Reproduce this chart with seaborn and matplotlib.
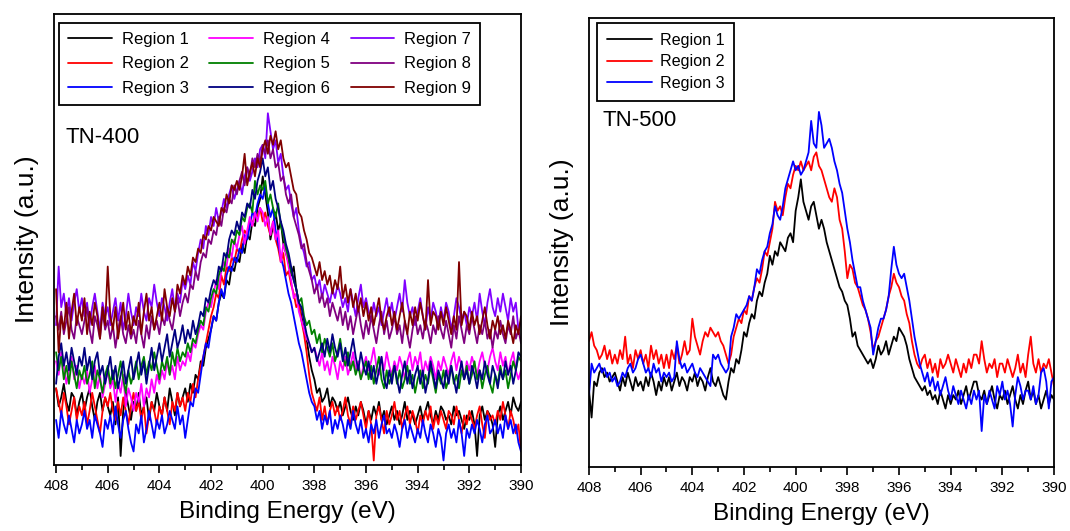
import numpy as np
import pandas as pd
import matplotlib
matplotlib.use("Agg")
import matplotlib.pyplot as plt
import seaborn as sns
from matplotlib.ticker import MultipleLocator

# N 1s spectra, binding energy grid (eV), 0.1 eV step from 408 down to 390
energy = np.round(np.arange(408.0, 389.95, -0.1), 1)

# ---- TN-400 (intensity, arbitrary units) ----
tn400_region1 = [
    17, 13, 15, 18, 14, 12, 16, 15, 11, 14,
    16, 12, 15, 17, 13, 10, 14, 16, 12, 15,
    13, 11, 14, 9, 15, 2, 12, 16, 13, 10,
    14, 12, 16, 11, 13, 15, 10, 14, 12, 16,
    13, 11, 15, 12, 17, 14, 11, 16, 13, 15,
    17, 14, 18, 16, 20, 19, 23, 22, 26, 28,
    30, 33, 32, 36, 38, 37, 41, 40, 44, 43,
    46, 45, 49, 47, 51, 50, 54, 53, 57, 59,
    64, 60, 56, 50, 53, 56, 52, 54, 49, 47,
    45, 42, 44, 39, 36, 33, 30, 28, 24, 21,
    19, 16, 17, 14, 15, 17, 13, 15, 14, 12,
    14, 11, 13, 15, 12, 10, 13, 11, 14, 12,
    9, 12, 10, 13, 11, 14, 10, 12, 9, 11,
    13, 10, 12, 9, 11, 14, 10, 12, 11, 9,
    11, 13, 10, 12, 14, 11, 9, 12, 10, 13,
    12, 10, 11, 9, 13, 11, 12, 10, 8, 11,
    10, 12, 9, 2, 11, 13, 10, 12, 11, 9,
    4, 11, 13, 10, 12, 14, 11, 15, 13, 12,
    14]
tn400_region2 = [
    17, 14, 11, 16, 13, 9, 12, 15, 10, 13,
    11, 14, 9, 12, 16, 13, 10, 7, 12, 15,
    13, 16, 12, 10, 14, 11, 15, 12, 9, 13,
    16, 12, 14, 10, 13, 7, 11, 14, 12, 9,
    13, 11, 15, 12, 9, 14, 12, 16, 13, 15,
    12, 16, 14, 18, 15, 19, 22, 24, 27, 30,
    33, 35, 38, 37, 42, 40, 44, 43, 46, 45,
    48, 47, 50, 52, 51, 54, 53, 56, 55, 57,
    54, 56, 53, 51, 54, 50, 48, 45, 47, 42,
    43, 40, 38, 35, 36, 32, 29, 25, 20, 16,
    14, 12, 15, 10, 13, 9, 12, 14, 11, 13,
    10, 12, 15, 11, 9, 13, 10, 12, 14, 11,
    8, 12, 9, 1, 11, 13, 10, 7, 12, 9,
    11, 14, 10, 12, 8, 11, 13, 9, 12, 10,
    7, 11, 9, 12, 10, 13, 8, 11, 9, 12,
    10, 8, 12, 11, 9, 13, 10, 7, 11, 9,
    12, 10, 8, 11, 13, 9, 6, 12, 10, 11,
    9, 12, 10, 14, 11, 8, 12, 10, 7, 9,
    3]
tn400_region3 = [
    10, 6, 12, 9, 7, 11, 8, 5, 10, 7,
    9, 12, 8, 10, 6, 11, 9, 7, 4, 10,
    8, 11, 7, 13, 9, 6, 10, 12, 8, 5,
    3, 9, 7, 11, 5, 8, 12, 9, 6, 10,
    8, 11, 7, 9, 12, 10, 8, 13, 9, 11,
    6, 10, 14, 13, 17, 16, 20, 24, 27, 26,
    30, 33, 32, 36, 39, 37, 42, 44, 43, 46,
    45, 48, 47, 51, 50, 53, 56, 55, 58, 60,
    59, 62, 58, 55, 57, 52, 49, 46, 44, 41,
    38, 36, 33, 30, 27, 25, 22, 19, 16, 14,
    13, 10, 12, 8, 11, 9, 12, 7, 10, 8,
    11, 9, 6, 10, 8, 12, 9, 7, 10, 6,
    8, 5, 9, 7, 10, 6, 9, 11, 7, 8,
    6, 9, 7, 4, 8, 10, 6, 9, 7, 5,
    8, 6, 10, 7, 5, 9, 7, 4, 8, 6,
    1, 7, 9, 6, 8, 5, 10, 7, 2, 8,
    6, 9, 7, 10, 8, 5, 9, 11, 7, 8,
    10, 7, 9, 6, 11, 8, 10, 7, 9, 5,
    3]
tn400_region4 = [
    23, 20, 25, 22, 18, 21, 24, 19, 22, 17,
    20, 18, 21, 16, 19, 22, 17, 20, 15, 18,
    21, 17, 19, 14, 18, 16, 20, 13, 17, 15,
    12, 16, 14, 18, 13, 17, 15, 19, 16, 20,
    18, 21, 19, 23, 20, 22, 19, 24, 21, 23,
    22, 25, 23, 27, 26, 29, 31, 30, 34, 36,
    35, 38, 41, 39, 43, 45, 44, 48, 46, 50,
    48, 51, 53, 49, 52, 55, 53, 56, 54, 57,
    56, 53, 55, 51, 54, 50, 52, 45, 49, 47,
    44, 41, 37, 38, 34, 32, 30, 28, 27, 25,
    26, 24, 22, 25, 21, 23, 20, 24, 22, 19,
    23, 21, 24, 20, 22, 25, 21, 23, 19, 22,
    24, 21, 23, 26, 22, 20, 24, 21, 25, 22,
    20, 23, 21, 24, 22, 19, 23, 25, 21, 24,
    22, 25, 20, 23, 21, 24, 22, 19, 23, 21,
    24, 22, 20, 23, 25, 21, 24, 22, 19, 23,
    21, 24, 22, 20, 23, 25, 22, 21, 24, 26,
    23, 21, 25, 22, 24, 20, 23, 25, 21, 19,
    21]
tn400_region5 = [
    25, 21, 24, 19, 22, 18, 23, 20, 17, 21,
    19, 22, 18, 20, 23, 17, 21, 19, 16, 20,
    22, 18, 21, 17, 20, 23, 19, 16, 21, 18,
    20, 23, 19, 22, 24, 20, 23, 21, 25, 22,
    19, 23, 21, 24, 20, 25, 22, 26, 23, 25,
    24, 27, 25, 28, 27, 30, 32, 31, 35, 34,
    37, 39, 38, 42, 44, 43, 47, 46, 50, 49,
    52, 51, 55, 54, 57, 58, 56, 63, 60, 62,
    61, 63, 58, 60, 57, 55, 58, 53, 51, 48,
    46, 43, 41, 39, 36, 37, 33, 31, 32, 29,
    30, 27, 29, 25, 28, 26, 24, 27, 23, 25,
    28, 24, 22, 25, 21, 23, 20, 22, 19, 21,
    23, 19, 22, 18, 21, 24, 19, 17, 21, 18,
    20, 22, 18, 21, 17, 19, 22, 18, 20, 16,
    19, 21, 17, 20, 18, 22, 19, 16, 20, 18,
    21, 17, 19, 22, 18, 20, 17, 21, 19, 22,
    18, 20, 23, 19, 21, 17, 20, 22, 18, 16,
    20, 18, 22, 19, 21, 17, 20, 23, 21, 24,
    23]
tn400_region6 = [
    18, 24, 27, 22, 25, 21, 26, 23, 20, 24,
    22, 26, 21, 24, 19, 23, 25, 20, 22, 18,
    21, 24, 19, 22, 17, 20, 23, 18, 21, 24,
    19, 22, 25, 20, 23, 18, 22, 26, 21, 24,
    27, 23, 26, 29, 24, 27, 30, 26, 28, 31,
    27, 30, 28, 32, 29, 31, 34, 33, 37, 36,
    39, 41, 40, 44, 43, 47, 46, 50, 52, 51,
    54, 52, 56, 55, 58, 57, 61, 59, 63, 65,
    68, 64, 66, 61, 63, 59, 57, 54, 52, 49,
    47, 44, 41, 39, 36, 35, 32, 29, 27, 25,
    26, 23, 25, 27, 24, 28, 25, 29, 26, 24,
    27, 23, 26, 22, 25, 28, 24, 21, 25, 22,
    20, 23, 19, 22, 18, 21, 24, 19, 17, 21,
    18, 22, 19, 16, 20, 23, 18, 21, 17, 20,
    22, 18, 21, 16, 19, 23, 20, 17, 21, 19,
    17, 21, 18, 22, 19, 16, 20, 23, 19, 21,
    18, 22, 20, 17, 21, 19, 23, 20, 18, 22,
    20, 17, 21, 19, 23, 20, 22, 18, 21, 25,
    24]
tn400_region7 = [
    31, 44, 35, 38, 33, 37, 32, 36, 39, 34,
    37, 33, 36, 31, 35, 38, 34, 30, 36, 33,
    35, 31, 34, 37, 32, 36, 30, 33, 38, 34,
    31, 35, 33, 38, 34, 32, 37, 35, 40, 36,
    33, 37, 35, 32, 36, 39, 34, 38, 36, 41,
    39, 42, 40, 45, 43, 47, 50, 48, 53, 51,
    55, 53, 57, 54, 56, 59, 57, 60, 62, 59,
    61, 63, 60, 64, 66, 63, 65, 68, 66, 70,
    71, 68, 78, 74, 70, 72, 67, 69, 64, 61,
    62, 58, 55, 57, 52, 49, 47, 44, 45, 41,
    42, 39, 41, 37, 40, 38, 36, 39, 37, 40,
    38, 35, 37, 34, 39, 36, 33, 37, 40, 35,
    37, 34, 32, 36, 33, 35, 31, 34, 37, 33,
    36, 32, 35, 38, 34, 41, 36, 33, 35, 31,
    34, 37, 33, 30, 35, 32, 36, 34, 31, 35,
    32, 36, 34, 30, 33, 37, 35, 32, 34, 31,
    35, 33, 36, 32, 38, 34, 31, 36, 39, 35,
    33, 37, 34, 38, 35, 32, 37, 34, 36, 30,
    32]
tn400_region8 = [
    33, 30, 34, 29, 32, 35, 30, 28, 33, 31,
    29, 32, 35, 30, 27, 33, 31, 28, 34, 30,
    32, 28, 31, 26, 30, 33, 29, 27, 31, 28,
    30, 27, 32, 29, 26, 31, 28, 33, 30, 32,
    29, 33, 31, 35, 32, 30, 34, 37, 33, 36,
    38, 36, 40, 39, 43, 41, 45, 47, 46, 50,
    49, 52, 51, 55, 53, 57, 56, 59, 58, 62,
    60, 63, 65, 62, 66, 64, 68, 66, 69, 67,
    71, 69, 72, 68, 70, 66, 67, 63, 64, 60,
    58, 60, 55, 53, 51, 48, 49, 45, 43, 41,
    38, 40, 36, 38, 35, 37, 33, 36, 34, 32,
    35, 31, 34, 30, 33, 29, 32, 35, 31, 28,
    32, 29, 33, 30, 27, 31, 34, 29, 32, 28,
    30, 33, 29, 31, 27, 32, 29, 26, 30, 33,
    29, 31, 28, 32, 30, 27, 31, 29, 33, 30,
    28, 32, 29, 26, 31, 28, 33, 30, 27, 31,
    29, 33, 30, 27, 31, 29, 32, 28, 30, 26,
    30, 28, 32, 29, 27, 31, 29, 33, 28, 30,
    27]
tn400_region9 = [
    39, 25, 33, 30, 36, 28, 34, 38, 31, 35,
    32, 37, 29, 34, 31, 36, 33, 28, 35, 31,
    44, 33, 30, 35, 28, 32, 36, 30, 34, 29,
    33, 31, 36, 29, 34, 38, 32, 35, 30, 33,
    36, 32, 39, 35, 33, 37, 34, 40, 38, 42,
    40, 44, 42, 46, 45, 48, 47, 51, 50, 53,
    52, 55, 54, 53, 57, 56, 60, 58, 62, 61,
    63, 61, 64, 69, 62, 65, 67, 64, 68, 66,
    70, 72, 69, 73, 71, 74, 70, 72, 68, 66,
    67, 64, 61, 60, 56, 55, 52, 50, 47, 46,
    44, 42, 45, 41, 43, 40, 42, 38, 41, 39,
    44, 37, 40, 36, 39, 35, 38, 34, 37, 33,
    36, 32, 35, 31, 34, 37, 32, 30, 33, 35,
    31, 34, 30, 33, 36, 32, 29, 34, 31, 35,
    32, 36, 33, 30, 41, 31, 34, 33, 30, 34,
    31, 35, 32, 29, 33, 30, 45, 31, 34, 33,
    30, 34, 31, 33, 29, 32, 35, 31, 28, 32,
    30, 33, 29, 31, 28, 32, 30, 27, 31, 29,
    33]

# ---- TN-500 (intensity, arbitrary units) ----
tn500_region1 = [
    17, 11, 19, 18, 21, 22, 20, 21, 19, 20,
    21, 19, 17, 20, 18, 21, 19, 17, 20, 18,
    19, 17, 20, 18, 21, 19, 16, 19, 17, 20,
    18, 20, 17, 19, 21, 18, 20, 19, 17, 20,
    19, 21, 18, 20, 19, 17, 20, 22, 19, 18,
    20, 18, 16, 15, 19, 22, 21, 24, 23, 26,
    30, 29, 32, 34, 33, 37, 39, 38, 41, 43,
    47, 45, 48, 47, 50, 49, 48, 51, 52, 50,
    57, 60, 64, 59, 57, 55, 58, 59, 56, 53,
    55, 53, 50, 48, 46, 44, 42, 40, 39, 37,
    36, 33, 29, 30, 27, 26, 25, 24, 23, 24,
    22, 24, 27, 25, 26, 28, 25, 27, 29, 28,
    31, 30, 29, 27, 24, 22, 20, 19, 18, 17,
    18, 16, 17, 15, 16, 14, 17, 15, 13, 16,
    14, 16, 15, 17, 14, 16, 18, 15, 17, 19,
    19, 16, 15, 17, 14, 16, 18, 15, 13, 16,
    15, 17, 14, 16, 18, 15, 13, 16, 14, 17,
    19, 15, 17, 14, 16, 13, 15, 17, 14, 16,
    15]
tn500_region2 = [
    28, 30, 27, 26, 24, 25, 27, 24, 26, 23,
    25, 23, 26, 24, 29, 23, 25, 22, 26, 24,
    26, 23, 25, 22, 27, 24, 26, 23, 25, 22,
    25, 22, 26, 24, 27, 23, 25, 28, 25, 26,
    33, 29, 27, 25, 28, 30, 29, 31, 30, 29,
    30, 28, 27, 25, 23, 25, 29, 31, 33, 32,
    35, 34, 38, 37, 40, 42, 41, 44, 48, 47,
    50, 53, 59, 57, 58, 56, 60, 63, 62, 65,
    67, 66, 68, 66, 67, 68, 66, 69, 70, 67,
    66, 64, 62, 60, 59, 62, 60, 55, 53, 48,
    42, 45, 44, 41, 40, 38, 36, 35, 33, 30,
    26, 28, 29, 31, 33, 35, 38, 40, 43, 41,
    40, 38, 37, 34, 32, 28, 25, 23, 22, 24,
    25, 22, 24, 21, 23, 20, 24, 22, 23, 25,
    23, 21, 24, 22, 20, 23, 21, 24, 22, 25,
    25, 23, 28, 24, 21, 23, 22, 24, 20, 23,
    23, 21, 24, 22, 20, 22, 25, 21, 23, 20,
    25, 29, 23, 21, 24, 21, 23, 22, 24, 21,
    18]
tn500_region3 = [
    16, 23, 21, 22, 23, 21, 22, 20, 21, 19,
    20, 18, 19, 21, 20, 22, 23, 21, 22, 24,
    25, 23, 21, 22, 20, 23, 21, 22, 19, 21,
    20, 21, 19, 20, 28, 24, 22, 23, 21, 22,
    23, 21, 20, 22, 21, 20, 19, 18, 25, 24,
    25, 23, 22, 21, 22, 29, 31, 34, 33, 34,
    35, 36, 38, 37, 40, 44, 43, 46, 48, 49,
    52, 54, 58, 56, 55, 58, 62, 64, 66, 68,
    66, 67, 65, 66, 68, 70, 77, 72, 71, 79,
    76, 71, 72, 73, 71, 68, 66, 63, 61, 57,
    53, 50, 46, 43, 40, 40, 37, 35, 33, 31,
    25, 28, 31, 33, 33, 35, 38, 44, 49, 45,
    43, 42, 43, 40, 37, 33, 29, 26, 23, 21,
    19, 21, 18, 20, 17, 19, 16, 18, 20, 17,
    15, 18, 16, 14, 17, 15, 13, 16, 14, 17,
    15, 17, 8, 16, 14, 17, 15, 13, 18, 16,
    19, 15, 17, 14, 9, 16, 20, 18, 15, 17,
    17, 15, 18, 14, 16, 21, 22, 19, 13, 19,
    20]

tn400_labels = [f"Region {i}" for i in range(1, 10)]
tn500_labels = [f"Region {i}" for i in range(1, 4)]
tn400_series = [tn400_region1, tn400_region2, tn400_region3, tn400_region4,
                tn400_region5, tn400_region6, tn400_region7, tn400_region8,
                tn400_region9]
tn500_series = [tn500_region1, tn500_region2, tn500_region3]

region_colors = {
    "Region 1": "#000000", "Region 2": "#FF0000", "Region 3": "#0000FF",
    "Region 4": "#FF00FF", "Region 5": "#008000", "Region 6": "#000080",
    "Region 7": "#8000FF", "Region 8": "#800080", "Region 9": "#800000",
}


def long_frame(series, labels):
    return pd.DataFrame({
        "energy": np.tile(energy, len(series)),
        "intensity": np.concatenate([np.asarray(s, float) for s in series]),
        "region": np.repeat(labels, len(energy)),
    })


sns.set_theme(style="ticks")
plt.rcParams["font.family"] = ["Liberation Sans", "DejaVu Sans"]
plt.rcParams["axes.edgecolor"] = "black"
plt.rcParams["xtick.color"] = "black"
plt.rcParams["text.color"] = "black"
plt.rcParams["axes.labelcolor"] = "black"

fig = plt.figure(figsize=(10.7, 5.31), dpi=100)
ax1 = fig.add_axes([54 / 1070, 66 / 531, 467 / 1070, 451 / 531])
ax2 = fig.add_axes([589 / 1070, 64 / 531, 465 / 1070, 449.5 / 531])

panels = [
    (ax1, tn400_series, tn400_labels, "TN-400", (0.024, 0.727),
     dict(ncol=3, fontsize=12, bbox_to_anchor=(0.011, 0.98), handlelength=2.6,
          handletextpad=0.6, columnspacing=1.25, labelspacing=0.55, borderpad=0.55)),
    (ax2, tn500_series, tn500_labels, "TN-500", (0.028, 0.77),
     dict(ncol=1, fontsize=11.6, bbox_to_anchor=(0.017, 0.988), handlelength=2.8,
          handletextpad=0.5, labelspacing=0.42, borderpad=0.6)),
]

for ax, series, labels, name, txt_pos, leg_kw in panels:
    df = long_frame(series, labels)
    sns.lineplot(data=df, x="energy", y="intensity", hue="region",
                 hue_order=labels, palette=region_colors, sort=False,
                 estimator=None, linewidth=1.3, legend=False, ax=ax)
    ax.set_xlim(408.08 if ax is ax1 else 408.0, 390.0)
    ax.set_ylim(0, 100)
    ax.xaxis.set_major_locator(MultipleLocator(2))
    ax.xaxis.set_minor_locator(MultipleLocator(1))
    ax.set_yticks([])
    ax.tick_params(axis="x", which="major", direction="out", length=6,
                   width=1.2, labelsize=11, pad=4, colors="black")
    ax.tick_params(axis="x", which="minor", direction="out", length=3.5,
                   width=1.2)
    for sp in ax.spines.values():
        sp.set_visible(True)
        sp.set_linewidth(1.3)
        sp.set_color("black")
    ax.set_xlabel("Binding Energy (eV)", fontsize=17.5, labelpad=6)
    ax.set_ylabel("Intensity (a.u.)", fontsize=19, labelpad=11)
    ax.text(txt_pos[0], txt_pos[1], name, transform=ax.transAxes,
            fontsize=16, ha="left", va="center")
    leg = ax.legend(ax.lines, labels, loc="upper left", frameon=True,
                    fancybox=False, framealpha=1, edgecolor="black",
                    borderaxespad=0, **leg_kw)
    leg.get_frame().set_linewidth(1.3)

fig.savefig("out.png", dpi=100)
